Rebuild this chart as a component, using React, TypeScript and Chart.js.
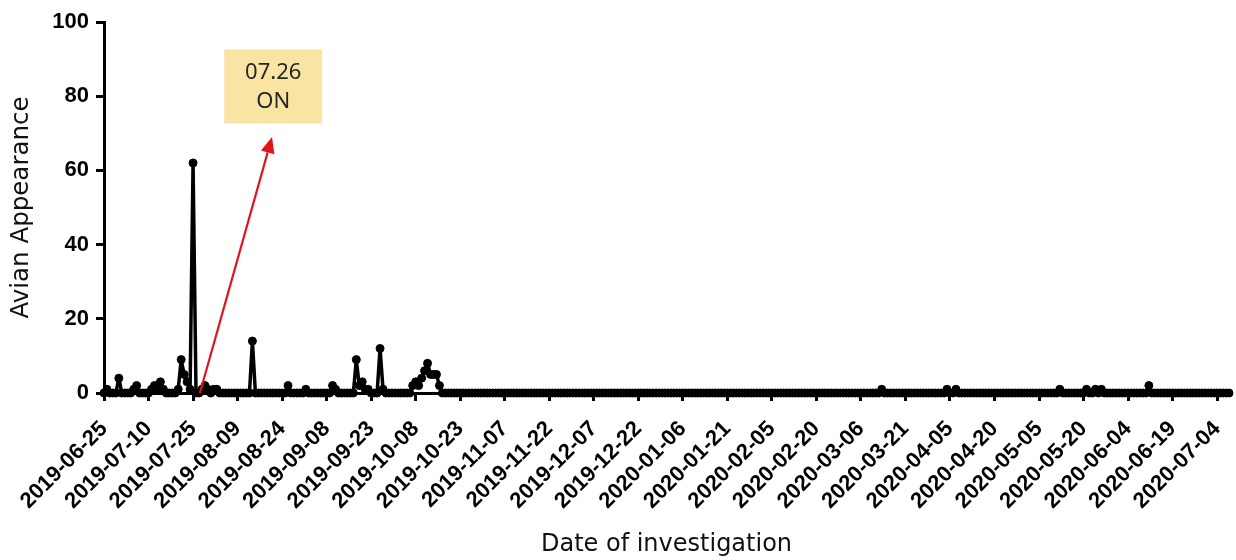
import React, { useEffect, useRef } from 'react';
import { Chart, registerables } from 'chart.js';

Chart.register(...registerables);

// Tick labels shown every 15 days along the x axis
const tickLabels = [
  '2019-06-25', '2019-07-10', '2019-07-25', '2019-08-09', '2019-08-24', '2019-09-08',
  '2019-09-23', '2019-10-08', '2019-10-23', '2019-11-07', '2019-11-22', '2019-12-07',
  '2019-12-22', '2020-01-06', '2020-01-21', '2020-02-05', '2020-02-20', '2020-03-06',
  '2020-03-21', '2020-04-05', '2020-04-20', '2020-05-05', '2020-05-20', '2020-06-04',
  '2020-06-19', '2020-07-04',
];
const tickEvery = 15;

// Daily avian appearance counts, one row per 15 days starting 2019-06-25
const appearance = [
  0, 1, 0, 0, 0, 4, 0, 0, 0, 0, 1, 2, 0, 0, 0,
  0, 1, 2, 1, 3, 1, 0, 0, 0, 0, 1, 9, 5, 3, 1,
  62, 0, 0, 1, 2, 1, 0, 1, 1, 0, 0, 0, 0, 0, 0,
  0, 0, 0, 0, 0, 14, 0, 0, 0, 0, 0, 0, 0, 0, 0,
  0, 0, 2, 0, 0, 0, 0, 0, 1, 0, 0, 0, 0, 0, 0,
  0, 0, 2, 1, 0, 0, 0, 0, 0, 0, 9, 2, 3, 1, 1,
  0, 0, 0, 12, 1, 0, 0, 0, 0, 0, 0, 0, 0, 0, 2,
  3, 2, 4, 6, 8, 5, 5, 5, 2, 0, 0, 0, 0, 0, 0,
  0, 0, 0, 0, 0, 0, 0, 0, 0, 0, 0, 0, 0, 0, 0,
  0, 0, 0, 0, 0, 0, 0, 0, 0, 0, 0, 0, 0, 0, 0,
  0, 0, 0, 0, 0, 0, 0, 0, 0, 0, 0, 0, 0, 0, 0,
  0, 0, 0, 0, 0, 0, 0, 0, 0, 0, 0, 0, 0, 0, 0,
  0, 0, 0, 0, 0, 0, 0, 0, 0, 0, 0, 0, 0, 0, 0,
  0, 0, 0, 0, 0, 0, 0, 0, 0, 0, 0, 0, 0, 0, 0,
  0, 0, 0, 0, 0, 0, 0, 0, 0, 0, 0, 0, 0, 0, 0,
  0, 0, 0, 0, 0, 0, 0, 0, 0, 0, 0, 0, 0, 0, 0,
  0, 0, 0, 0, 0, 0, 0, 0, 0, 0, 0, 0, 0, 0, 0,
  0, 0, 0, 0, 0, 0, 0, 1, 0, 0, 0, 0, 0, 0, 0,
  0, 0, 0, 0, 0, 0, 0, 0, 0, 0, 0, 0, 0, 0, 1,
  0, 0, 1, 0, 0, 0, 0, 0, 0, 0, 0, 0, 0, 0, 0,
  0, 0, 0, 0, 0, 0, 0, 0, 0, 0, 0, 0, 0, 0, 0,
  0, 0, 0, 0, 0, 0, 0, 1, 0, 0, 0, 0, 0, 0, 0,
  0, 1, 0, 0, 1, 0, 1, 0, 0, 0, 0, 0, 0, 0, 0,
  0, 0, 0, 0, 0, 0, 0, 2, 0, 0, 0, 0, 0, 0, 0,
  0, 0, 0, 0, 0, 0, 0, 0, 0, 0, 0, 0, 0, 0, 0,
  0, 0, 0, 0, 0,
];

const yTicks = [0, 20, 40, 60, 80, 100];

// Annotation (data coordinates)
const annotationLines = ['07.26', 'ON'];
const annotationBox = { x: 57, y: 82.6 };
const arrowFrom = { x: 32.3, y: 0 };
const arrowTo = { x: 56.6, y: 69 };

export default function App() {
  const ref = useRef<HTMLCanvasElement>(null);

  useEffect(() => {
    const points = appearance.map((v, i) => ({ x: i, y: v }));

    const annotate = {
      id: 'annotate',
      afterDraw(chart: any) {
        const { ctx, scales } = chart;
        const xs = scales.x;
        const ys = scales.y;
        const bx = xs.getPixelForValue(annotationBox.x);
        const by = ys.getPixelForValue(annotationBox.y);
        ctx.save();
        ctx.fillStyle = '#F9E4A4';
        ctx.fillRect(bx - 49, by - 37, 98, 74);
        ctx.fillStyle = '#262626';
        ctx.font = '22px "Noto Sans"';
        ctx.textAlign = 'center';
        ctx.textBaseline = 'middle';
        ctx.fillText(annotationLines[0], bx, by - 14);
        ctx.fillText(annotationLines[1], bx, by + 15);

        const x0 = xs.getPixelForValue(arrowFrom.x);
        const y0 = ys.getPixelForValue(arrowFrom.y);
        const x1 = xs.getPixelForValue(arrowTo.x);
        const y1 = ys.getPixelForValue(arrowTo.y);
        const ang = Math.atan2(y1 - y0, x1 - x0);
        const headLen = 16;
        const headW = 7;
        const hx = x1 - headLen * Math.cos(ang);
        const hy = y1 - headLen * Math.sin(ang);
        ctx.strokeStyle = '#E3131B';
        ctx.fillStyle = '#E3131B';
        ctx.lineWidth = 2.2;
        ctx.beginPath();
        ctx.moveTo(x0, y0);
        ctx.lineTo(hx, hy);
        ctx.stroke();
        ctx.beginPath();
        ctx.moveTo(x1, y1);
        ctx.lineTo(hx + headW * Math.sin(ang), hy - headW * Math.cos(ang));
        ctx.lineTo(hx - headW * Math.sin(ang), hy + headW * Math.cos(ang));
        ctx.closePath();
        ctx.fill();
        ctx.restore();
      },
    };

    const axisGrid = {
      drawOnChartArea: false,
      drawTicks: true,
      tickLength: 8,
      tickWidth: 3,
      tickColor: '#000',
    };
    const axisBorder = { display: true, color: '#000', width: 3 };

    const chart = new Chart(ref.current as HTMLCanvasElement, {
      type: 'line',
      data: {
        datasets: [
          {
            data: points,
            borderColor: '#000',
            borderWidth: 3.5,
            borderJoinStyle: 'round',
            borderCapStyle: 'round',
            pointRadius: 4,
            pointBackgroundColor: '#000',
            pointBorderColor: '#000',
            pointBorderWidth: 1,
            tension: 0,
            clip: false as any,
          },
        ],
      },
      options: {
        responsive: false,
        animation: false,
        devicePixelRatio: 1,
        layout: { padding: { top: 22, right: 7, left: 0, bottom: 0 } },
        plugins: {
          legend: { display: false },
          tooltip: { enabled: false },
        },
        scales: {
          x: {
            type: 'linear',
            min: 0,
            max: appearance.length - 1,
            afterBuildTicks: (s: any) => {
              s.ticks = tickLabels.map((_, i) => ({ value: i * tickEvery }));
            },
            afterFit: (s: any) => {
              s.height = 167;
              s.paddingLeft = 0;
              s.paddingRight = 0;
            },
            ticks: {
              autoSkip: false,
              maxRotation: 45,
              minRotation: 45,
              color: '#000',
              padding: 15,
              font: { family: '"Liberation Sans", Arial, sans-serif', weight: 'bold', size: 22 },
              callback: (v: any) => tickLabels[Math.round(Number(v) / tickEvery)],
            },
            grid: axisGrid,
            border: axisBorder,
            title: {
              display: true,
              text: 'Date of investigation',
              color: '#111',
              font: { family: '"DejaVu Sans"', size: 24 },
              padding: { top: 0, bottom: 1 },
            },
          },
          y: {
            min: 0,
            max: 100,
            afterBuildTicks: (s: any) => {
              s.ticks = yTicks.map((v) => ({ value: v }));
            },
            afterFit: (s: any) => {
              s.width = 104;
            },
            ticks: {
              color: '#000',
              padding: 7,
              font: { family: '"Liberation Sans", Arial, sans-serif', weight: 'bold', size: 22 },
            },
            grid: axisGrid,
            border: axisBorder,
            title: {
              display: true,
              text: 'Avian Appearance',
              color: '#111',
              font: { family: '"DejaVu Sans"', size: 24.5 },
              padding: { top: 7, bottom: 0 },
            },
          },
        },
      } as any,
      plugins: [annotate],
    });

    return () => chart.destroy();
  }, []);

  return (
    <div style={{ position: 'absolute', left: 0, top: 0, width: 1236, height: 560 }}>
      <canvas ref={ref} width={1236} height={560} style={{ display: 'block' }} />
    </div>
  );
}
